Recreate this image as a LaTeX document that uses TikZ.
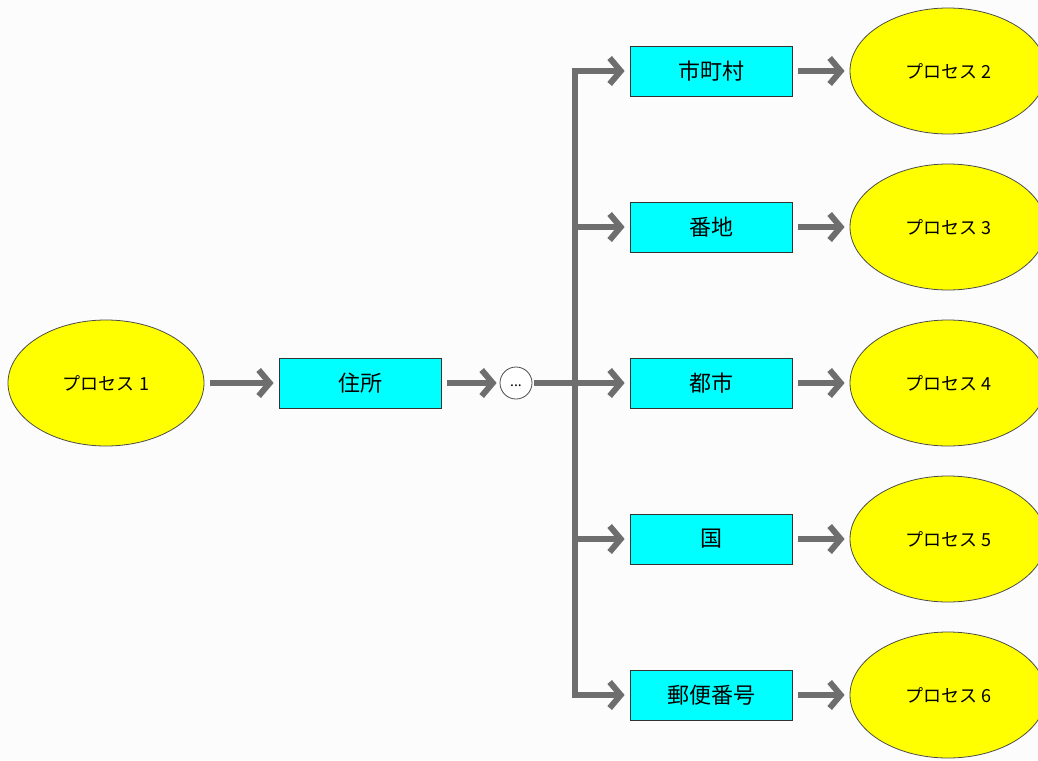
\documentclass[tikz,border=0pt]{standalone}
\usepackage{fontspec}
\setmainfont{Noto Sans CJK JP}
\usetikzlibrary{arrows.meta,shapes.geometric}
\definecolor{arrgray}{HTML}{6E6E6E}
\definecolor{boxcyan}{HTML}{00FFFF}
\definecolor{proc}{HTML}{FFFF00}
\tikzset{
  procnode/.style={ellipse,draw=black!70,line width=0.8pt,fill=proc,minimum width=196pt,minimum height=126pt,inner sep=0pt,font=\fontsize{18}{18}\selectfont},
  databox/.style={rectangle,draw=black!80,line width=0.8pt,fill=boxcyan,minimum width=162pt,minimum height=50pt,inner sep=0pt,font=\fontsize{22}{22}\selectfont},
  arr/.style={draw=arrgray,line width=6pt,-{Straight Barb[length=11pt,width=26pt]},shorten >=5pt,shorten <=6pt},
  link/.style={draw=arrgray,line width=6pt},
  dots/.style={circle,draw=black!70,line width=0.8pt,fill=white,minimum size=32pt,inner sep=0pt}
}
\begin{document}
\begin{tikzpicture}[x=1pt,y=-1pt]
\fill[white!99!black] (0,0) rectangle (1038,760);
\useasboundingbox (0,0) rectangle (1038,760);
\node[procnode] (p1) at (106,383) {プロセス 1};
\node[databox] (addr) at (360,383) {住所};
\node[dots] (dd) at (516,383) {};
\node[font=\fontsize{14}{14}\selectfont] (ddt) at (516,386) {...};
\coordinate (trunk) at (575,383);
\node[databox] (b1) at (711,71) {市町村};
\node[databox] (b2) at (711,227) {番地};
\node[databox] (b3) at (711,383) {都市};
\node[databox] (b4) at (711,539) {国};
\node[databox] (b5) at (711,695) {郵便番号};
\node[procnode] (q1) at (948,71) {プロセス 2};
\node[procnode] (q2) at (948,227) {プロセス 3};
\node[procnode] (q3) at (948,383) {プロセス 4};
\node[procnode] (q4) at (948,539) {プロセス 5};
\node[procnode] (q5) at (948,695) {プロセス 6};
\draw[arr] (p1) -- (addr);
\draw[arr,shorten >=3pt] (addr) -- (dd);
\draw[link,shorten <=2pt] (dd.east) -- (trunk);
\foreach \i in {1,...,5}{
  \draw[arr,shorten <=0pt] (trunk) |- (b\i.west);
  \draw[arr] (b\i) -- (q\i);
}
\end{tikzpicture}
\end{document}
